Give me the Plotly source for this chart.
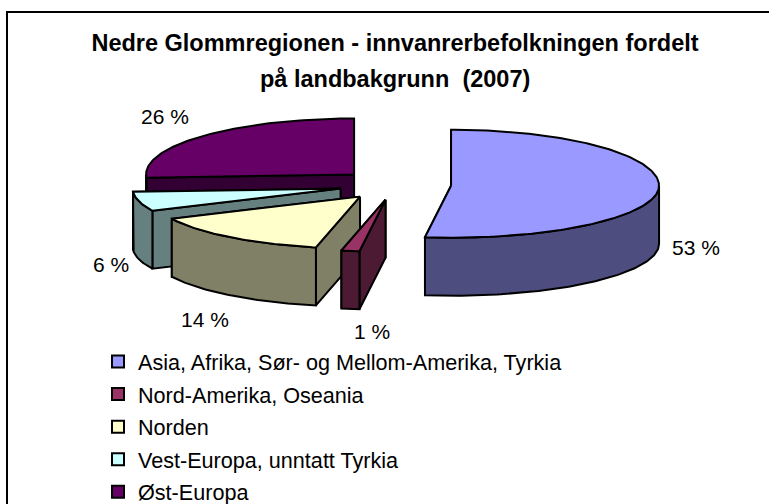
import math
import plotly.graph_objects as go

categories = ["Asia, Afrika, Sør- og Mellom-Amerika, Tyrkia", "Nord-Amerika, Oseania", "Norden",
              "Vest-Europa, unntatt Tyrkia", "Øst-Europa"]
values = [52.0, 1.4, 14.6, 6.0, 26.0]
value_labels = ["53 %", "1 %", "14 %", "6 %", "26 %"]
top_colors = ["#9999FF", "#993366", "#FFFFCC", "#CCFFFF", "#660066"]
side_colors = ["#4D4D80", "#4D1A33", "#808066", "#668080", "#330033"]
label_xy = [(696, 247), (372, 331), (205, 319), (111, 264), (165, 116)]

# The chart runs past the bottom of the window, as in the reference (no bottom border is visible)
W, H = 769, 540
CX, CY = 395, 184.8     # pie centre before explosion
RX, RY_BACK, RY_FRONT = 208, 56, 52
DEPTH = 58
EXPLODE = 0.27


def pt(cx, cy, deg):
    s, c = math.sin(math.radians(deg)), math.cos(math.radians(deg))
    return cx + RX * s, cy - c * (RY_BACK if c > 0 else RY_FRONT)


def arc(cx, cy, a0, a1):
    n = max(2, int(abs(a1 - a0)) + 1)
    return [pt(cx, cy, a0 + (a1 - a0) * i / (n - 1)) for i in range(n)]


def poly(points, fill):
    xs = [p[0] for p in points] + [points[0][0]]
    ys = [p[1] for p in points] + [points[0][1]]
    return go.Scatter(x=xs, y=ys, mode="lines", fill="toself", fillcolor=fill,
                      line=dict(color="black", width=2), hoverinfo="skip", showlegend=False)


def down(p):
    return (p[0], p[1] + DEPTH)


# Slice extents from the values
total = sum(values)
slices = []
start = 0.0
for i, v in enumerate(values):
    end = start + v / total * 360
    slices.append((i, start, end))
    start = end

fig = go.Figure()
# Paint from the back of the pie to the front
for i, start, end in reversed(slices):
    mid = math.radians((start + end) / 2)
    cx = CX + EXPLODE * RX * math.sin(mid)
    cy = CY - EXPLODE * RY_BACK * math.cos(mid)
    apex = (cx, cy)
    for edge in (end, start):
        p = pt(cx, cy, edge)
        fig.add_trace(poly([apex, p, down(p), down(apex)], side_colors[i]))
    w0, w1 = max(start, 90), min(end, 270)
    if w1 > w0:
        a = arc(cx, cy, w0, w1)
        fig.add_trace(poly(a + [down(p) for p in reversed(a)], side_colors[i]))
    fig.add_trace(poly([apex] + arc(cx, cy, start, end), top_colors[i]))

for i, name in enumerate(categories):
    fig.add_trace(go.Scatter(x=[None], y=[None], mode="markers", name=name, legendgroup=name,
                             marker=dict(symbol="square", size=10, color=top_colors[i],
                                         line=dict(color="black", width=1.5))))

FONT = "Liberation Sans, Arial, sans-serif"
annotations = [dict(x=x, y=y, text=t, showarrow=False, xref="x", yref="y",
                    font=dict(family=FONT, size=21, color="black"))
               for (x, y), t in zip(label_xy, value_labels)]
annotations.append(dict(x=395, y=79, text="<b>på landbakgrunn \u00a0(2007)</b>", showarrow=False,
                        xref="x", yref="y", font=dict(family=FONT, size=23.5, color="black")))

fig.update_layout(
    width=W, height=H, autosize=False,
    margin=dict(l=0, r=0, t=0, b=0),
    paper_bgcolor="white", plot_bgcolor="white",
    font=dict(family=FONT, color="black"),
    title=dict(text="<b>Nedre Glommregionen - innvanrerbefolkningen fordelt</b>",
               x=395 / W, xanchor="center", y=1 - 43 / H, yanchor="middle",
               font=dict(family=FONT, size=23.5, color="black")),
    xaxis=dict(range=[0, W], visible=False, fixedrange=True),
    yaxis=dict(range=[H, 0], visible=False, fixedrange=True),
    legend=dict(x=98 / W, y=1 - 341 / H, xanchor="left", yanchor="top", bgcolor="rgba(0,0,0,0)",
                font=dict(family=FONT, size=21.6, color="black"), tracegroupgap=1.5,
                itemsizing="constant", traceorder="grouped"),
    annotations=annotations,
    shapes=[dict(type="rect", xref="x", yref="y", x0=7, y0=12, x1=800, y1=560,
                 line=dict(color="black", width=2), layer="below")],
)
fig.write_html("out.html", config=dict(displayModeBar=False),
               post_script="document.body.style.margin='0';document.documentElement.style.overflow='hidden';")
